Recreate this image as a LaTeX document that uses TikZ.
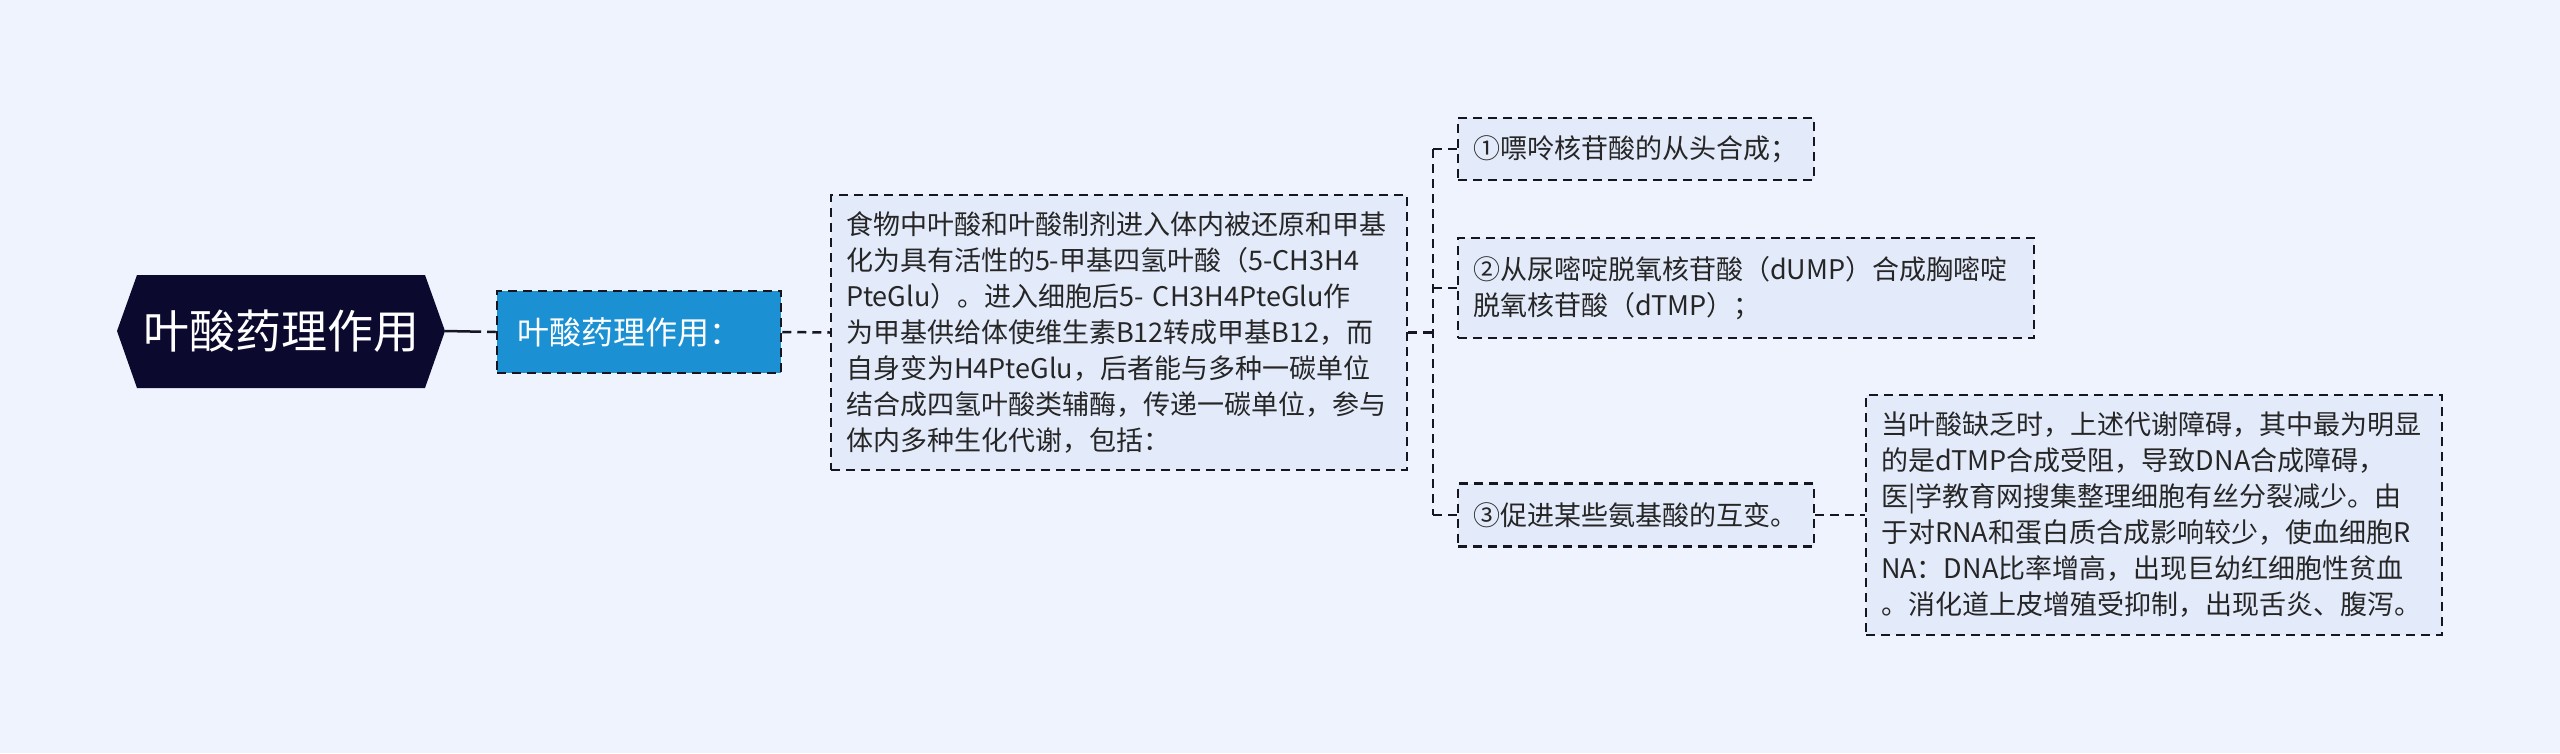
\documentclass[tikz,border=0pt]{standalone}
\usepackage{fontspec}
\setmainfont{Noto Sans CJK SC}
\definecolor{bg}{RGB}{239,243,253}
\definecolor{boxfill}{RGB}{227,234,250}
\definecolor{rootfill}{RGB}{11,9,46}
\definecolor{lonefill}{RGB}{27,144,211}
\definecolor{linec}{RGB}{22,22,32}
\definecolor{txt}{RGB}{38,38,38}
\begin{document}
\begin{tikzpicture}[x=1pt,y=-1pt,
  conn/.style={draw=linec,line width=2.5pt,dash pattern=on 9pt off 6pt},
  boxnode/.style={draw=linec,line width=2.5pt,dash pattern=on 9pt off 6pt,fill=boxfill,text=txt,align=left,inner xsep=15pt,inner ysep=0pt,font=\fontsize{27pt}{36pt}\selectfont},
]
\fill[bg] (0,0) rectangle (2560,753);
\useasboundingbox (0,0) rectangle (2560,753);

% root
\fill[rootfill] (117,331) -- (137,275) -- (425,275) -- (445,331) -- (425,388) -- (137,388) -- cycle;
\node[inner sep=0pt, minimum width=328pt, minimum height=113pt, text=white, font=\fontsize{46pt}{50pt}\selectfont] (root) at (281,331) {叶酸药理作用};

% level 1
\node[draw=linec,line width=2.5pt,dash pattern=on 9pt off 6pt, fill=lonefill, text=white, minimum height=82pt, text width=244pt, inner xsep=20pt, inner ysep=0pt, align=left, font=\fontsize{32pt}{36pt}\selectfont] (l1) at (639,332) {叶酸药理作用：};

% level 2
\node[boxnode, text width=546pt, minimum height=275pt] (l2) at (1119,332.5) {食物中叶酸和叶酸制剂进入体内被还原和甲基\\化为具有活性的5-甲基四氢叶酸（5-CH3H4\\PteGlu）。进入细胞后5-~CH3H4PteGlu作\\为甲基供给体使维生素B12转成甲基B12，而\\自身变为H4PteGlu，后者能与多种一碳单位\\结合成四氢叶酸类辅酶，传递一碳单位，参与\\体内多种生化代谢，包括：};

% children
\node[boxnode, text width=326pt, minimum height=62pt] (c1) at (1636,149) {①嘌呤核苷酸的从头合成；};
\node[boxnode, text width=546pt, minimum height=100pt] (c2) at (1746,288) {②从尿嘧啶脱氧核苷酸（dUMP）合成胸嘧啶\\脱氧核苷酸（dTMP）；};
\node[boxnode, text width=326pt, minimum height=63pt] (c3) at (1636,515) {③促进某些氨基酸的互变。};

% leaf
\node[boxnode, text width=546pt, minimum height=240pt] (leaf) at (2154,515) {当叶酸缺乏时，上述代谢障碍，其中最为明显\\的是dTMP合成受阻，导致DNA合成障碍，\\医|学教育网搜集整理细胞有丝分裂减少。由\\于对RNA和蛋白质合成影响较少，使血细胞R\\NA：DNA比率增高，出现巨幼红细胞性贫血\\。消化道上皮增殖受抑制，出现舌炎、腹泻。};

% connectors
\draw[draw=linec,line width=2.5pt,dash pattern=on 36pt off 6pt on 40pt off 6pt] (root.east) -- (l1.west);
\draw[conn] (l1.east) -- (l2.west);
\coordinate (bj) at (1433,332.5);
\coordinate (bt) at (1433,149);
\coordinate (b2) at (1433,288);
\coordinate (bb) at (1433,515);
\draw[conn] (l2.east) -- (bj);
\draw[conn] (bt) -- (bb);
\draw[conn] (bt) -- (c1.west);
\draw[conn] (b2) -- (c2.west);
\draw[conn] (bb) -- (c3.west);
\draw[conn] (c3.east) -- (leaf.west);
\end{tikzpicture}
\end{document}
